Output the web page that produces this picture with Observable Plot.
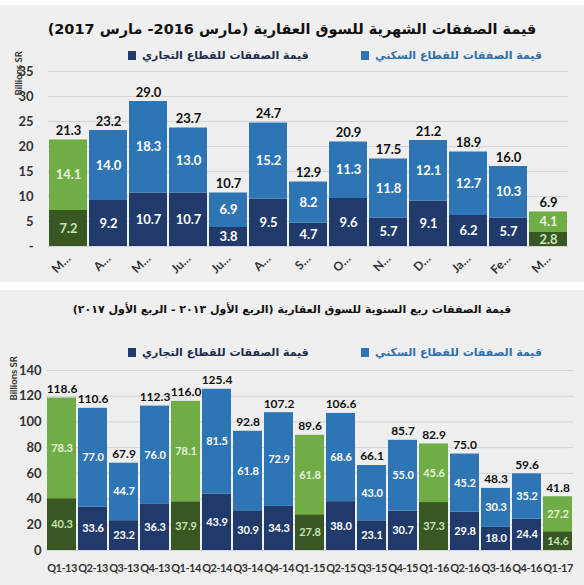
<!DOCTYPE html>
<html><head><meta charset="utf-8">
<script src="https://cdn.jsdelivr.net/npm/d3@7"></script>
<script src="https://cdn.jsdelivr.net/npm/@observablehq/plot@0.6"></script>
<style>
body{margin:0;background:#fff;width:584px;height:585px;position:relative;overflow:hidden;font-family:Lato,sans-serif}
.panel{position:absolute;left:0;width:584px;background:#efefef;overflow:visible}
.title{position:absolute;left:0;width:584px;text-align:center;font-family:"DejaVu Sans",sans-serif;font-weight:bold;color:#111;white-space:nowrap}
.item{position:absolute;display:flex;align-items:center;gap:6px;font-family:"DejaVu Sans",sans-serif;font-size:11px;font-weight:bold;white-space:nowrap;height:14px}
.sw{width:8px;height:9px;display:inline-block}
.chart{position:absolute;left:0}
#c2 g[aria-label="x-axis tick label"] text{letter-spacing:-0.5px}
</style></head>
<body>
<div class="panel" id="p1" style="top:5px;height:277px">
  <div class="title" dir="rtl" id="t1" style="top:10px;font-size:14.5px;line-height:28px"></div>
  <div class="item" id="l1a" style="top:43px;left:128px"></div>
  <div class="item" id="l1b" style="top:43px;left:361px"></div>
  <div class="chart" id="c1" style="top:57px"></div>
</div>
<div class="panel" id="p2" style="top:290px;height:295px">
  <div class="title" dir="rtl" id="t2" style="top:6px;font-size:11px;line-height:28px"></div>
  <div class="item" id="l2a" style="top:55px;left:128px"></div>
  <div class="item" id="l2b" style="top:55px;left:361px"></div>
  <div class="chart" id="c2" style="top:72px"></div>
</div>
<script>
// ---- text ----
const title1 = "قيمة الصفقات الشهرية للسوق العقارية (مارس 2016- مارس 2017)";
const title2 = "قيمة الصفقات ربع السنوية للسوق العقارية (الربع الأول ٢٠١٣ - الربع الأول ٢٠١٧)";
const legendCommercial = "قيمة الصفقات للقطاع التجاري";
const legendResidential = "قيمة الصفقات للقطاع السكني";
const yTitle = "Billions SR";

// ---- monthly data ----
const months = ["Mar-16","Apr-16","May-16","Jun-16","Jul-16","Aug-16","Sep-16","Oct-16","Nov-16","Dec-16","Jan-17","Feb-17","Mar-17"];
const monthTickLabels = ["M…","A…","M…","Ju…","Ju…","A…","S…","O…","N…","D…","Ja…","Fe…","M…"];
const monthResidential = [14.1,14.0,18.3,13.0,6.9,15.2,8.2,11.3,11.8,12.1,12.7,10.3,4.1];
const monthCommercial  = [7.2,9.2,10.7,10.7,3.8,9.5,4.7,9.6,5.7,9.1,6.2,5.7,2.8];
const monthTotal       = [21.3,23.2,29.0,23.7,10.7,24.7,12.9,20.9,17.5,21.2,18.9,16.0,6.9];
const monthHighlight   = ["Mar-16","Mar-17"];
const monthYTicks      = [0,5,10,15,20,25,30,35];

// ---- quarterly data ----
const quarters = ["Q1-13","Q2-13","Q3-13","Q4-13","Q1-14","Q2-14","Q3-14","Q4-14","Q1-15","Q2-15","Q3-15","Q4-15","Q1-16","Q2-16","Q3-16","Q4-16","Q1-17"];
const quarterResidential = [78.3,77.0,44.7,76.0,78.1,81.5,61.8,72.9,61.8,68.6,43.0,55.0,45.6,45.2,30.3,35.2,27.2];
const quarterCommercial  = [40.3,33.6,23.2,36.3,37.9,43.9,30.9,34.3,27.8,38.0,23.1,30.7,37.3,29.8,18.0,24.4,14.6];
const quarterTotal       = [118.6,110.6,67.9,112.3,116.0,125.4,92.8,107.2,89.6,106.6,66.1,85.7,82.9,75.0,48.3,59.6,41.8];
const quarterHighlight   = ["Q1-13","Q1-14","Q1-15","Q1-16","Q1-17"];
const quarterYTicks      = [0,20,40,60,80,100,120,140];

// ---- colours ----
const colorKeys   = ["com","res","comH","resH","tw","tgl","tgd"];
const colorValues = ["#1f3a6b","#2e75b6","#385723","#70ad47","#ffffff","#e6f2dc","#c9e3b4"];

document.getElementById("t1").textContent = title1;
document.getElementById("t2").textContent = title2;
function legendItem(id, color, label, textColor){
  const el = document.getElementById(id);
  el.innerHTML = `<span class="sw" style="background:${color}"></span><span dir="rtl" style="color:${textColor}">${label}</span>`;
}
legendItem("l1a", colorValues[0], legendCommercial, "#1f2d4d");
legendItem("l1b", colorValues[1], legendResidential, "#2e6fae");
legendItem("l2a", colorValues[0], legendCommercial, "#1f2d4d");
legendItem("l2b", colorValues[1], legendResidential, "#2e6fae");

const fmt = d3.format(".1f");

function rowsFor(cats, com, res, hl){
  const rows = [];
  cats.forEach((c,i)=>{
    const h = hl.includes(c);
    rows.push({cat:c, value:com[i], key:h?"comH":"com", tkey:h?"tgd":"tw"});
    rows.push({cat:c, value:res[i], key:h?"resH":"res", tkey:h?"tgl":"tw"});
  });
  return rows;
}

function chart(o){
  const rows = rowsFor(o.cats, o.com, o.res, o.hl);
  return Plot.plot({
    width:584, height:o.height,
    marginTop:o.mt, marginBottom:o.mb, marginLeft:o.ml, marginRight:o.mr,
    style:{background:"transparent", overflow:"visible", fontFamily:"Lato, sans-serif", color:"#404040"},
    x:{domain:o.cats, paddingInner:o.pad, paddingOuter:0, label:null, axis:null},
    y:{domain:o.ydomain, label:null, axis:null},
    color:{type:"ordinal", domain:colorKeys, range:colorValues},
    marks:[
      Plot.gridY(o.yticks, {stroke:"#d3d3d3", strokeOpacity:1}),
      Plot.barY(rows, Plot.stackY({x:"cat", y:"value", fill:"key"})),
      Plot.text(rows, Plot.stackY({x:"cat", y:"value", text:d=>fmt(d.value), fill:"tkey", fontSize:o.inFont, fontWeight:"bold"})),
      Plot.text(o.cats, {x:d=>d, y:(d,i)=>o.total[i], text:(d,i)=>fmt(o.total[i]), dy:-9, fontSize:o.totFont, fontWeight:"bold", fill:"#111"}),
      Plot.axisY(o.yticks, {tickSize:0, tickPadding:o.ypad, tickFormat:o.yfmt, fontSize:13, fontWeight:"bold", label:null, fill:"#333"}),
      Plot.axisX(o.cats, {tickSize:0, tickPadding:o.xpad, tickRotate:o.rot, tickFormat:o.xfmt, fontSize:o.xFont, fontWeight:"bold", label:null, fill:"#333"}),
      Plot.text([yTitle], {frameAnchor:"top-left", dx:o.ytdx, dy:o.ytdy, rotate:-90, textAnchor:"start", fontSize:9.5, fontWeight:"bold", fill:"#333"})
    ]
  });
}

const monthLabelOf = Object.fromEntries(months.map((m,i)=>[m, monthTickLabels[i]]));

document.getElementById("c1").append(chart({
  cats:months, com:monthCommercial, res:monthResidential, total:monthTotal, hl:monthHighlight,
  height:220, mt:9, mb:36, ml:48, mr:16, pad:0.05, ydomain:[0,35], yticks:monthYTicks,
  yfmt:d=>d===0?"-":String(d), ypad:15, xpad:10, rot:-45, xfmt:d=>monthLabelOf[d], xFont:12,
  inFont:13, totFont:13, ytdx:-33, ytdy:24
}));

document.getElementById("c2").append(chart({
  cats:quarters, com:quarterCommercial, res:quarterResidential, total:quarterTotal, hl:quarterHighlight,
  height:223, mt:8, mb:35, ml:46, mr:11, pad:0.06, ydomain:[0,140], yticks:quarterYTicks,
  yfmt:d=>String(d), ypad:5, xpad:14, rot:0, xfmt:d=>d, xFont:11,
  inFont:11, totFont:12, ytdx:-36, ytdy:30
}));
</script>
</body></html>
